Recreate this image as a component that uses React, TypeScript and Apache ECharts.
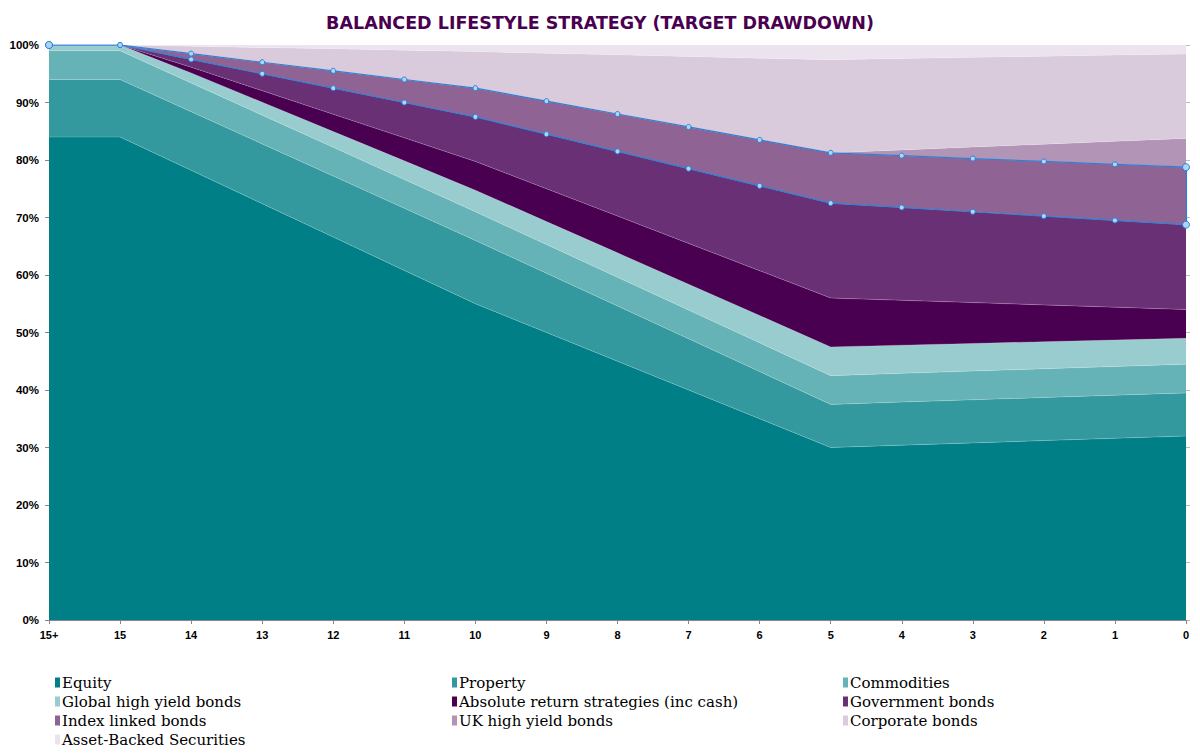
import React, { useEffect, useRef } from "react";
import * as echarts from "echarts";

// Years to target retirement date
const categories = ["15+", "15", "14", "13", "12", "11", "10", "9", "8", "7", "6", "5", "4", "3", "2", "1", "0"];

// Allocation (%) per asset class at each point of the glide path
const equity = [84, 84, 78.2, 72.4, 66.6, 60.8, 55, 50, 45, 40, 35, 30, 30.4, 30.8, 31.2, 31.6, 32];
const property = [10, 10, 10.2, 10.4, 10.6, 10.8, 11, 10.3, 9.6, 8.9, 8.2, 7.5, 7.5, 7.5, 7.5, 7.5, 7.5];
const commodities = [5, 5, 5, 5, 5, 5, 5, 5, 5, 5, 5, 5, 5, 5, 5, 5, 5];
const globalHighYield = [1, 1, 1.75, 2.25, 2.75, 3.25, 3.75, 4, 4.25, 4.5, 4.75, 5, 4.9, 4.8, 4.7, 4.6, 4.5];
const absoluteReturn = [0, 0, 1, 2, 3, 4, 5, 5.7, 6.4, 7.1, 7.8, 8.5, 7.8, 7.1, 6.4, 5.7, 5];
const governmentBonds = [0, 0, 1.35, 2.95, 4.55, 6.15, 7.75, 9.5, 11.25, 13, 14.75, 16.5, 16.15, 15.8, 15.45, 15.1, 14.75];
const indexLinked = [0, 0, 1, 2, 3, 4, 5, 5.75, 6.5, 7.25, 8, 8.75, 9, 9.25, 9.5, 9.75, 10];
const ukHighYield = [0, 0, 0, 0, 0, 0, 0, 0, 0, 0, 0, 0, 1, 2, 3, 4, 5];
const corporateBonds = [0, 0, 1.3, 2.55, 3.85, 5.1, 6.35, 8.3, 10.3, 12.25, 14.2, 16.2, 15.9, 15.6, 15.3, 15.0, 14.7];
const assetBacked = [0, 0, 0.2, 0.45, 0.65, 0.9, 1.15, 1.45, 1.7, 2.0, 2.3, 2.55, 2.35, 2.15, 1.95, 1.75, 1.55];

const seriesDefs = [
  { name: "Equity", data: equity, color: "#007F86" },
  { name: "Property", data: property, color: "#33999F" },
  { name: "Commodities", data: commodities, color: "#66B3B7" },
  { name: "Global high yield bonds", data: globalHighYield, color: "#99CCCF" },
  { name: "Absolute return strategies (inc cash)", data: absoluteReturn, color: "#4A0050" },
  { name: "Government bonds", data: governmentBonds, color: "#6A3075" },
  { name: "Index linked bonds", data: indexLinked, color: "#8F6495" },
  { name: "UK high yield bonds", data: ukHighYield, color: "#B194B6" },
  { name: "Corporate bonds", data: corporateBonds, color: "#D9CADC" },
  { name: "Asset-Backed Securities", data: assetBacked, color: "#EBE3EE" },
];

// Running totals that bound the index-linked band
const sumUpTo = (n: number) =>
  categories.map((_, i) => {
    let s = 0;
    for (let k = 0; k <= n; k++) s += seriesDefs[k].data[i];
    return +s.toFixed(2);
  });
const belowIndexLinked = sumUpTo(5);
const topIndexLinked = sumUpTo(6);

const legendColumns = [
  ["Equity", "Global high yield bonds", "Index linked bonds", "Asset-Backed Securities"],
  ["Property", "Absolute return strategies (inc cash)", "UK high yield bonds"],
  ["Commodities", "Government bonds", "Corporate bonds"],
];
const legendLefts = [55, 452, 843];

const selectBlue = "#2E7FD6";

export default function App() {
  const ref = useRef<HTMLDivElement>(null);

  useEffect(() => {
    if (!ref.current) return;
    const chart = echarts.init(ref.current, undefined, { renderer: "svg" });

    const areaSeries = seriesDefs.map((d) => ({
      name: d.name,
      type: "line",
      stack: "total",
      data: d.data,
      symbol: "none",
      showSymbol: false,
      itemStyle: { color: d.color },
      lineStyle: { width: 0.6, color: "rgba(255,255,255,0.3)" },
      areaStyle: { color: d.color, opacity: 1 },
      z: 2,
    }));

    const markerSize = (_v: any, p: any) => (p.dataIndex === 0 || p.dataIndex === categories.length - 1 ? 7 : 5);

    const outlineSeries = [
      {
        name: "outline-low",
        type: "line",
        data: belowIndexLinked,
        symbol: "circle",
        symbolSize: markerSize,
        itemStyle: { color: "#A8D8F8", borderColor: selectBlue, borderWidth: 1 },
        lineStyle: { color: selectBlue, width: 1.2 },
        z: 5,
      },
      {
        name: "outline-high",
        type: "line",
        data: topIndexLinked,
        symbol: "circle",
        symbolSize: markerSize,
        itemStyle: { color: "#A8D8F8", borderColor: selectBlue, borderWidth: 1 },
        lineStyle: { color: selectBlue, width: 1.2 },
        z: 5,
        markLine: {
          silent: true,
          symbol: "none",
          label: { show: false },
          lineStyle: { color: selectBlue, width: 1.2, type: "solid" },
          data: [
            [
              { coord: [categories.length - 1, belowIndexLinked[categories.length - 1]] },
              { coord: [categories.length - 1, topIndexLinked[categories.length - 1]] },
            ],
          ],
        },
      },
    ];

    const axisFont = { fontFamily: "Liberation Sans, Arial, sans-serif", fontWeight: "bold" as const, fontSize: 11, color: "#000" };

    chart.setOption({
      animation: false,
      title: {
        text: "BALANCED LIFESTYLE STRATEGY (TARGET DRAWDOWN)",
        left: "center",
        top: 9,
        textStyle: { fontFamily: "DejaVu Sans", fontWeight: 900, fontSize: 17.5, color: "#4A0050" },
      },
      legend: legendColumns.map((col, i) => ({
        data: col,
        orient: "vertical",
        left: legendLefts[i],
        top: 673,
        height: 80,
        padding: 0,
        icon: "rect",
        itemWidth: 5,
        itemHeight: 10,
        itemGap: 0,
        selectedMode: false,
        textStyle: { fontFamily: "DejaVu Serif", fontSize: 15, color: "#000", lineHeight: 19, padding: [0, 0, 0, -3] },
      })),
      grid: { left: 49, right: 14, top: 45, bottom: 135, containLabel: false },
      xAxis: {
        type: "category",
        data: categories,
        boundaryGap: false,
        axisLine: { lineStyle: { color: "#888", width: 1 } },
        axisTick: { show: true, length: 4, lineStyle: { color: "#888" } },
        axisLabel: { ...axisFont, margin: 9, interval: 0 },
        splitLine: { show: false },
      },
      yAxis: [
        {
          type: "value",
          min: 0,
          max: 100,
          interval: 10,
          axisLine: { show: true, lineStyle: { color: "#888" } },
          axisTick: { show: true, length: 4, lineStyle: { color: "#888" } },
          axisLabel: { ...axisFont, fontSize: 11.5, formatter: "{value}%", margin: 10 },
          splitLine: { show: false },
        },
        {
          type: "value",
          position: "right",
          min: 0,
          max: 100,
          interval: 10,
          axisLine: { show: false },
          axisTick: { show: true, length: 4, lineStyle: { color: "#bbb" } },
          axisLabel: { show: false },
          splitLine: { show: false },
        },
      ],
      series: [...areaSeries, ...outlineSeries],
    });

    return () => chart.dispose();
  }, []);

  return <div ref={ref} style={{ position: "absolute", left: 0, top: 0, width: 1200, height: 755 }} />;
}
